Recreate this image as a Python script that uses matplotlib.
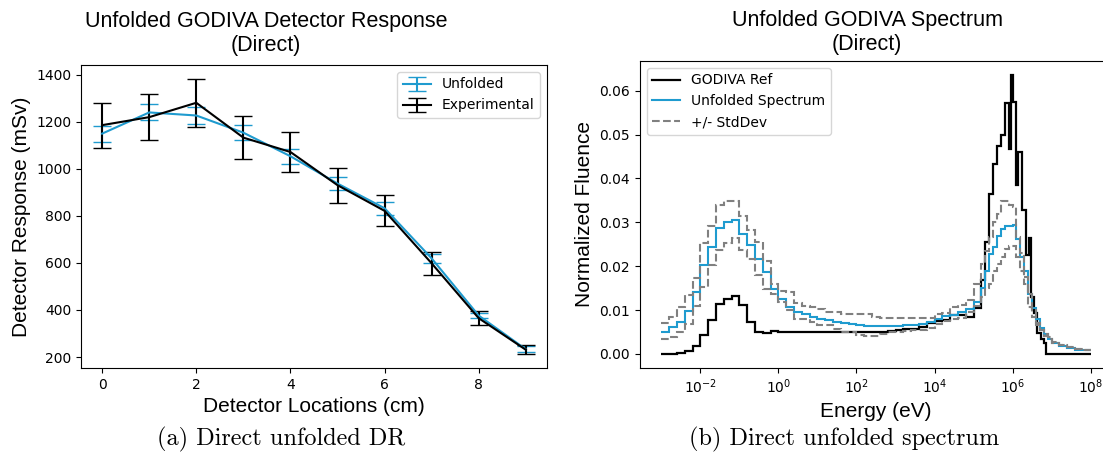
import numpy as np
import matplotlib
matplotlib.use("Agg")
import matplotlib.pyplot as plt
from matplotlib.ticker import NullLocator

# --- left panel: detector response vs location ---
locations = [0, 1, 2, 3, 4, 5, 6, 7, 8, 9]
unfolded_dr = [1149, 1239, 1226, 1153, 1053, 937, 832, 619, 376, 233]
unfolded_err = [34, 34, 34, 33, 31, 29, 27, 20, 12, 12]
exp_dr = [1185, 1219, 1280, 1132, 1071, 930, 821, 598, 365, 231]
exp_err = [95, 97, 102, 90, 86, 74, 66, 48, 29, 19]

# --- right panel: spectra (bin edges in log10(eV)) ---
unf_edges = [-3.0, -2.8, -2.6, -2.4, -2.2, -2.0, -1.8, -1.6, -1.4, -1.2,
             -1.0, -0.8, -0.6, -0.4, -0.2, 0.0, 0.2, 0.4, 0.6, 0.8,
             1.0, 1.2, 1.4, 1.6, 1.8, 2.0, 2.2, 2.4, 2.6, 2.8,
             3.0, 3.2, 3.4, 3.6, 3.8, 4.0, 4.2, 4.4, 4.6, 4.8,
             5.0, 5.2, 5.3, 5.4, 5.5, 5.6, 5.7, 5.8, 5.9, 6.0,
             6.1, 6.2, 6.3, 6.4, 6.5, 6.6, 6.7, 6.8, 6.9, 7.0,
             7.2, 7.4, 7.6, 7.8, 8.0]
unf_spec = [0.0050, 0.0062, 0.0073, 0.0098, 0.0141, 0.0202, 0.0244, 0.0286, 0.0301, 0.0306,
            0.0274, 0.0248, 0.0217, 0.0187, 0.0147, 0.0126, 0.0107, 0.0096, 0.0090, 0.0084,
            0.0080, 0.0078, 0.0073, 0.0070, 0.0068, 0.0065, 0.0064, 0.0063, 0.0063, 0.0064,
            0.0064, 0.0065, 0.0066, 0.0068, 0.0073, 0.0080, 0.0086, 0.0089, 0.0095, 0.0103,
            0.0118, 0.0150, 0.0190, 0.0228, 0.0243, 0.0270, 0.0285, 0.0292, 0.0292, 0.0295,
            0.0262, 0.0220, 0.0190, 0.0137, 0.0105, 0.0080, 0.0060, 0.0045, 0.0035, 0.0025,
            0.0018, 0.0014, 0.0010, 0.0008]
unf_upper = [0.0071, 0.0084, 0.0106, 0.0134, 0.0174, 0.0253, 0.0291, 0.0339, 0.0349, 0.0349,
             0.0314, 0.0283, 0.0255, 0.0213, 0.0160, 0.0143, 0.0141, 0.0116, 0.0109, 0.0106,
             0.0103, 0.0096, 0.0096, 0.0092, 0.0090, 0.0090, 0.0090, 0.0084, 0.0082, 0.0081,
             0.0081, 0.0081, 0.0081, 0.0081, 0.0082, 0.0090, 0.0094, 0.0107, 0.0112, 0.0122,
             0.0160, 0.0205, 0.0235, 0.0266, 0.0300, 0.0320, 0.0349, 0.0349, 0.0340, 0.0334,
             0.0266, 0.0230, 0.0175, 0.0137, 0.0100, 0.0070, 0.0055, 0.0042, 0.0035, 0.0025,
             0.0020, 0.0015, 0.0012, 0.0010]
unf_lower = [0.0033, 0.0039, 0.0050, 0.0068, 0.0109, 0.0153, 0.0202, 0.0236, 0.0253, 0.0265,
             0.0236, 0.0217, 0.0179, 0.0149, 0.0137, 0.0118, 0.0100, 0.0080, 0.0080, 0.0072,
             0.0065, 0.0065, 0.0058, 0.0050, 0.0050, 0.0043, 0.0042, 0.0042, 0.0045, 0.0050,
             0.0050, 0.0052, 0.0054, 0.0055, 0.0060, 0.0069, 0.0075, 0.0080, 0.0082, 0.0095,
             0.0110, 0.0130, 0.0150, 0.0160, 0.0190, 0.0205, 0.0220, 0.0240, 0.0247, 0.0247,
             0.0220, 0.0190, 0.0160, 0.0107, 0.0085, 0.0065, 0.0054, 0.0045, 0.0039, 0.0028,
             0.0020, 0.0015, 0.0012, 0.0009]

ref_edges = [-3.0, -2.8, -2.6, -2.4, -2.2, -2.0, -1.8, -1.6, -1.4, -1.2,
             -1.0, -0.8, -0.6, -0.4, -0.2, 0.0, 0.2, 0.4, 0.6, 0.8,
             1.0, 1.2, 1.4, 1.6, 1.8, 2.0, 2.2, 2.4, 2.6, 2.8,
             3.0, 3.2, 3.4, 3.6, 3.8, 4.0, 4.2, 4.4, 4.6, 4.8,
             5.0, 5.2, 5.3, 5.4, 5.5, 5.6, 5.7, 5.8, 5.9, 5.95,
             6.0, 6.1, 6.15, 6.25, 6.35, 6.42, 6.48, 6.55, 6.63, 6.72,
             6.8, 6.87, 8.0]
ref_spec = [0.0001, 0.0001, 0.0003, 0.0007, 0.0018, 0.0043, 0.0078, 0.0113, 0.0126, 0.0131,
            0.0111, 0.0073, 0.0050, 0.0048, 0.0052, 0.0051, 0.0051, 0.0051, 0.0051, 0.0051,
            0.0051, 0.0051, 0.0051, 0.0050, 0.0050, 0.0050, 0.0050, 0.0050, 0.0051, 0.0052,
            0.0054, 0.0056, 0.0058, 0.0062, 0.0071, 0.0074, 0.0078, 0.0088, 0.0088, 0.0085,
            0.0105, 0.0168, 0.0255, 0.0365, 0.0434, 0.0475, 0.0500, 0.0572, 0.0468, 0.0636,
            0.0574, 0.0384, 0.0460, 0.0327, 0.0225, 0.0264, 0.0130, 0.0093, 0.0047, 0.0035,
            0.0024, 0.0001]

blue = "#1f9bcf"
title_font = "Liberation Sans"

fig = plt.figure(figsize=(11.03, 4.71), dpi=100)
plt.rcParams["font.size"] = 10

# left: detector response
ax1 = fig.add_axes([0.0734, 0.2187, 0.4225, 0.6433])
ax1.errorbar(locations, unfolded_dr, yerr=unfolded_err, color=blue,
             capsize=6.5, lw=1.5, label="Unfolded")
ax1.errorbar(locations, exp_dr, yerr=exp_err, color="black",
             capsize=6.5, lw=1.5, label="Experimental")
ax1.set_title("Unfolded GODIVA Detector Response\n(Direct)",
              fontsize=15.5, family=title_font, x=0.397, pad=10)
ax1.set_xlabel("Detector Locations (cm)", fontsize=15, family=title_font)
ax1.set_ylabel("Detector Response (mSv)", fontsize=15, family=title_font)
ax1.tick_params(labelsize=10)
ax1.legend(loc="upper right", fontsize=10)

# right: spectrum
ax2 = fig.add_axes([0.5802, 0.2187, 0.428, 0.652])
ax2.stairs(ref_spec, 10.0 ** np.array(ref_edges), baseline=None,
           color="black", lw=1.6, label="GODIVA Ref")
ax2.stairs(unf_spec, 10.0 ** np.array(unf_edges), baseline=None,
           color=blue, lw=1.5, label="Unfolded Spectrum")
ax2.stairs(unf_upper, 10.0 ** np.array(unf_edges), baseline=None,
           color="gray", ls="--", lw=1.5, label="+/- StdDev")
ax2.stairs(unf_lower, 10.0 ** np.array(unf_edges), baseline=None,
           color="gray", ls="--", lw=1.5)
ax2.set_xscale("log")
ax2.set_xlim(10 ** -3.55, 10 ** 8.55)
ax2.set_ylim(-0.0032, 0.0668)
ax2.set_xticks([1e-2, 1e0, 1e2, 1e4, 1e6, 1e8])
ax2.xaxis.set_minor_locator(NullLocator())
ax2.set_title("Unfolded GODIVA Spectrum\n(Direct)", fontsize=15.5,
              family=title_font, x=0.481, pad=8)
ax2.set_xlabel("Energy (eV)", fontsize=15, family=title_font)
ax2.set_ylabel("Normalized Fluence", fontsize=15, family=title_font)
ax2.tick_params(labelsize=10)
ax2.legend(loc="upper left", fontsize=10)

# subfigure captions
fig.text(0.255, 0.066, "(a) Direct unfolded DR", ha="center", va="center",
         fontsize=17.5, family="cmr10")
fig.text(0.765, 0.066, "(b) Direct unfolded spectrum", ha="center", va="center",
         fontsize=17.5, family="cmr10")

fig.savefig("out.png", dpi=100)
